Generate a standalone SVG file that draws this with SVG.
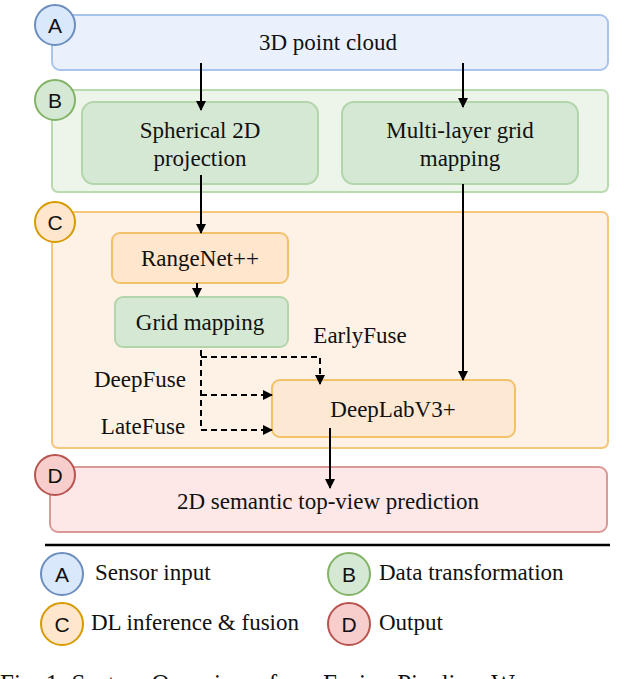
<svg xmlns="http://www.w3.org/2000/svg" width="640" height="679" viewBox="0 0 640 679">
<style>
text{font-family:"Liberation Serif",serif;font-size:23px;fill:#111;text-anchor:middle}
.c{font-family:"Liberation Sans",Arial,sans-serif;font-size:21px}
.l{text-anchor:start}
.ln{stroke:#000;stroke-width:2;fill:none}
.d{stroke:#000;stroke-width:2;fill:none;stroke-dasharray:6,4}
</style>
<defs><marker id="ar" viewBox="0 0 10 10" refX="9" refY="5" markerWidth="5" markerHeight="5" orient="auto"><path d="M0,0L10,5L0,10z" fill="#000"/></marker></defs>
<rect width="640" height="679" fill="#fff"/>
<g id="boxA"><rect x="52" y="15" width="556" height="55" rx="8" fill="#eaf1fd" stroke="#a9c4eb" stroke-width="2"/><text x="328" y="50">3D point cloud</text></g>
<g id="boxB"><rect x="52" y="90" width="556" height="102" rx="6" fill="#edf5ea" stroke="#b9d9ae" stroke-width="2"/></g>
<g id="spherical"><rect x="82" y="102" width="236" height="82" rx="12" fill="#d5e8d4" stroke="#b3d5ab" stroke-width="2"/><text x="200" y="138">Spherical 2D</text><text x="200" y="166">projection</text></g>
<g id="multilayer"><rect x="342" y="102" width="236" height="82" rx="12" fill="#d5e8d4" stroke="#b3d5ab" stroke-width="2"/><text x="460" y="138">Multi-layer grid</text><text x="460" y="166">mapping</text></g>
<g id="boxC"><rect x="52" y="212" width="556" height="236" rx="6" fill="#fef1e5" stroke="#f5c77a" stroke-width="2"/></g>
<g id="rangenet"><rect x="112" y="233" width="176" height="50" rx="8" fill="#ffe6cc" stroke="#f2c26b" stroke-width="2"/><text x="200" y="266">RangeNet++</text></g>
<g id="grid"><rect x="115" y="297" width="173" height="50" rx="8" fill="#d5e8d4" stroke="#b3d5ab" stroke-width="2"/><text x="200" y="330">Grid mapping</text></g>
<g id="deeplab"><rect x="272" y="380" width="243" height="57" rx="8" fill="#fde8d3" stroke="#f2c26b" stroke-width="2"/><text x="393" y="417">DeepLabV3+</text></g>
<g id="boxD"><rect x="50" y="467" width="557" height="65" rx="8" fill="#fde8e7" stroke="#d99998" stroke-width="2"/><text x="328" y="509">2D semantic top-view prediction</text></g>
<g id="connectors">
<path class="ln" d="M201,63V110" marker-end="url(#ar)"/>
<path class="ln" d="M463,63V107" marker-end="url(#ar)"/>
<path class="ln" d="M201,175V233" marker-end="url(#ar)"/>
<path class="ln" d="M197,283V297" marker-end="url(#ar)"/>
<path class="ln" d="M463,184V380" marker-end="url(#ar)"/>
<path class="ln" d="M330,428V488" marker-end="url(#ar)"/>
<path class="d" d="M201,350V430H272" marker-end="url(#ar)"/>
<path class="d" d="M201,357H320V384" marker-end="url(#ar)"/>
<path class="d" d="M201,395H272" marker-end="url(#ar)"/>
</g>
<g id="labels">
<text x="360" y="343">EarlyFuse</text>
<text x="140" y="387">DeepFuse</text>
<text x="143" y="434">LateFuse</text>
</g>
<g id="badges">
<circle cx="55" cy="25" r="20" fill="#dae8fc" stroke="#6c8ebf" stroke-width="2"/><text class="c" x="55" y="33">A</text>
<circle cx="55" cy="100" r="20" fill="#d5e8d4" stroke="#82b366" stroke-width="2"/><text class="c" x="55" y="108">B</text>
<circle cx="55" cy="222" r="20" fill="#ffe6cc" stroke="#d79b00" stroke-width="2"/><text class="c" x="55" y="230">C</text>
<circle cx="55" cy="475" r="20" fill="#f8cecc" stroke="#b85450" stroke-width="2"/><text class="c" x="55" y="483">D</text>
</g>
<path d="M45,545H610" stroke="#000" stroke-width="2.5"/>
<g id="legend">
<circle cx="62" cy="574" r="21" fill="#dae8fc" stroke="#6c8ebf" stroke-width="2"/><text class="c" x="62" y="582">A</text><text class="l" x="95" y="580">Sensor input</text>
<circle cx="349" cy="574" r="21" fill="#d5e8d4" stroke="#82b366" stroke-width="2"/><text class="c" x="349" y="582">B</text><text class="l" x="379" y="580">Data transformation</text>
<circle cx="62" cy="624" r="21" fill="#ffe6cc" stroke="#d79b00" stroke-width="2"/><text class="c" x="62" y="632">C</text><text class="l" x="91" y="630">DL inference &amp; fusion</text>
<circle cx="349" cy="624" r="21" fill="#f8cecc" stroke="#b85450" stroke-width="2"/><text class="c" x="349" y="632">D</text><text class="l" x="379" y="630">Output</text>
</g>
<text class="l" x="0" y="692" style="font-size:25px">Fig. 1: System Overview of our Fusion Pipeline. We p</text>
</svg>
